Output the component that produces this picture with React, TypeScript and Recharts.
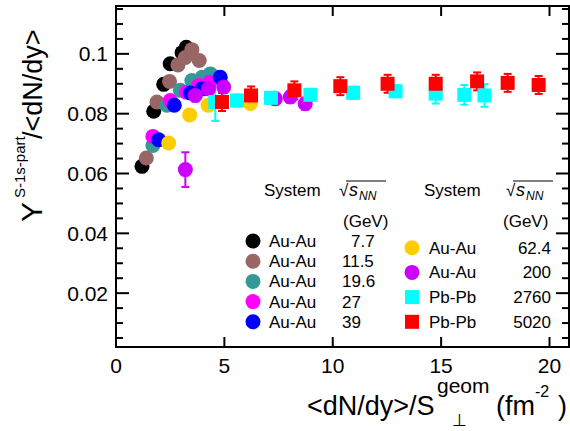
// Rendement S-1s-part / <dN/dy> en fonction de la densité transverse.
import { ScatterChart, Scatter, XAxis, YAxis, ErrorBar, ReferenceArea } from 'recharts';

const FONT = '"Liberation Sans", Arial, Helvetica, sans-serif';

// --- données ----------------------------------------------------------------
const au77X = [1.2, 1.74, 2.2, 2.5, 3.05, 3.24];
const au77Y = [0.0624, 0.0808, 0.0898, 0.0967, 0.1004, 0.1022];

const au115X = [1.4, 1.89, 2.47, 2.86, 3.2, 3.5, 3.84];
const au115Y = [0.0652, 0.0839, 0.0908, 0.0963, 0.0988, 0.1014, 0.0978];

const au196X = [1.7, 2.35, 2.97, 3.5, 3.97, 4.35, 4.66];
const au196Y = [0.0694, 0.0828, 0.0878, 0.0911, 0.0922, 0.0933, 0.0922];

const au27X = [1.7, 2.5, 3.25, 3.81, 4.32];
const au27Y = [0.0724, 0.0844, 0.0872, 0.0894, 0.0905];

const au39X = [1.97, 2.69, 3.43, 3.97, 4.81];
const au39Y = [0.0713, 0.0828, 0.0869, 0.0883, 0.0922];

const au624X = [2.43, 3.4, 4.25, 6.2];
const au624Y = [0.0702, 0.0796, 0.0828, 0.0834];

const au200X = [3.2, 3.66, 4.27, 4.97, 7.35, 8.04, 8.73];
const au200Y = [0.0613, 0.0861, 0.0883, 0.0889, 0.085, 0.0856, 0.0833];
const au200Err = [0.0058, 0.002, 0.002, 0.002, 0.002, 0.002, 0.002];

const pb2760X = [4.58, 5.58, 7.15, 8.97, 10.94, 12.9, 14.75, 16.07, 17.0];
const pb2760Y = [0.0839, 0.0844, 0.0853, 0.0863, 0.087, 0.0875, 0.0867, 0.0863, 0.0861];
const pb2760Err = [0.0063, 0.002, 0.002, 0.002, 0.002, 0.002, 0.0033, 0.0033, 0.0038];

const pb5020X = [4.89, 6.23, 8.23, 10.35, 12.53, 14.75, 16.66, 18.07, 19.5];
const pb5020Y = [0.0839, 0.0861, 0.0878, 0.0892, 0.09, 0.09, 0.0908, 0.0903, 0.0896];
const pb5020Err = [0.003, 0.003, 0.003, 0.003, 0.003, 0.003, 0.003, 0.003, 0.003];

const xTicks = [0, 5, 10, 15, 20];
const yTicks = [
  0.005, 0.01, 0.015, 0.02, 0.025, 0.03, 0.035, 0.04, 0.045, 0.05, 0.055, 0.06,
  0.065, 0.07, 0.075, 0.08, 0.085, 0.09, 0.095, 0.1, 0.105, 0.11, 0.115,
];

// --- géométrie du cadre -----------------------------------------------------
const W = 570;
const H = 431;
const LEFT = 116;
const RIGHT = 569;
const TOP = 6;
const BOTTOM = 347;
const Y_W = 60; // largeur réservée à l'axe y
const X_H = 30; // hauteur réservée à l'axe x

const pts = (xs: number[], ys: number[], errs?: number[]) =>
  xs.map((x, i) => ({ x, y: ys[i], err: errs ? errs[i] : 0 }));

const circle = (color: string) => (p: any) => <circle cx={p.cx} cy={p.cy} r={7.5} fill={color} />;
const square = (color: string) => (p: any) => (
  <rect x={p.cx - 7} y={p.cy - 7} width={14} height={14} fill={color} />
);

function renderYTick(props: any) {
  const { y, payload } = props;
  const v = Math.round(payload.value * 1000);
  const major = v % 20 === 0;
  const len = major ? 13 : 7;
  return (
    <g key={`y${v}`}>
      <line x1={LEFT} x2={LEFT + len} y1={y} y2={y} stroke="#000" strokeWidth={2} />
      <line x1={RIGHT} x2={RIGHT - len} y1={y} y2={y} stroke="#000" strokeWidth={2} />
      {major && (
        <text x={108} y={y + 7.5} textAnchor="end" fontSize={21} fontFamily={FONT} fill="#000">
          {v === 100 ? '0.1' : payload.value.toFixed(2)}
        </text>
      )}
    </g>
  );
}

function renderXTick(props: any) {
  const { x, payload } = props;
  return (
    <g key={`x${payload.value}`}>
      <line x1={x} x2={x} y1={BOTTOM} y2={BOTTOM - 10} stroke="#000" strokeWidth={2} />
      <line x1={x} x2={x} y1={TOP} y2={TOP + 10} stroke="#000" strokeWidth={2} />
      <text x={x} y={373} textAnchor="middle" fontSize={21} fontFamily={FONT} fill="#000">
        {payload.value}
      </text>
    </g>
  );
}

// Légende à deux colonnes, façon ROOT
const leftRows = [
  { c: '#000000', sys: 'Au-Au', e: '7.7', ex: 351 },
  { c: '#996666', sys: 'Au-Au', e: '11.5', ex: 342 },
  { c: '#339999', sys: 'Au-Au', e: '19.6', ex: 342 },
  { c: '#ff00ff', sys: 'Au-Au', e: '27', ex: 342 },
  { c: '#0000ff', sys: 'Au-Au', e: '39', ex: 342 },
];
const rightRows = [
  { c: '#ffcc00', sys: 'Au-Au', e: '62.4', sq: false },
  { c: '#cc00ff', sys: 'Au-Au', e: '200', sq: false },
  { c: '#00ffff', sys: 'Pb-Pb', e: '2760', sq: true },
  { c: '#ff0000', sys: 'Pb-Pb', e: '5020', sq: true },
];

function SqrtS({ x }: { x: number }) {
  return (
    <g fontFamily={FONT} fill="#000">
      <text x={x} y={196} fontSize={17}>√</text>
      <line x1={x + 7} x2={x + 47} y1={181} y2={181} stroke="#000" strokeWidth={1} />
      <text x={x + 10} y={196} fontSize={18} fontStyle="italic">s</text>
      <text x={x + 20} y={200} fontSize={12} fontStyle="italic">NN</text>
    </g>
  );
}

function Overlay() {
  return (
    <svg width={W} height={H} style={{ position: 'absolute', left: 0, top: 0, pointerEvents: 'none' }}>
      {/* titre axe y */}
      <text transform="rotate(-90)" fontFamily={FONT} fill="#000">
        <tspan x={-222} y={42} fontSize={30}>Y</tspan>
        <tspan x={-198} y={25} fontSize={15}>S-1s-part</tspan>
        <tspan x={-139} y={42} fontSize={27}>/&lt;dN/dy&gt;</tspan>
      </text>
      {/* titre axe x */}
      <g fontFamily={FONT} fill="#000">
        <text x={307} y={415} fontSize={27}>&lt;dN/dy&gt;/S</text>
        <text x={437} y={393} fontSize={21}>geom</text>
        <text x={452} y={426} fontSize={17}>⊥</text>
        <text x={496} y={415} fontSize={27}>(fm</text>
        <text x={535} y={397} fontSize={16}>-2</text>
        <text x={558} y={415} fontSize={27}>)</text>
      </g>
      {/* légende */}
      <g fontFamily={FONT} fill="#000" fontSize={17}>
        <text x={264} y={196}>System</text>
        <text x={343} y={227}>(GeV)</text>
        <text x={424} y={196}>System</text>
        <text x={503} y={227}>(GeV)</text>
        {leftRows.map((r, i) => {
          const cy = 241 + i * 20.2;
          return (
            <g key={r.e}>
              <circle cx={253} cy={cy} r={7.5} fill={r.c} />
              <text x={269} y={cy + 6}>{r.sys}</text>
              <text x={r.ex} y={cy + 6}>{r.e}</text>
            </g>
          );
        })}
        {rightRows.map((r, i) => {
          const cy = 247.7 + i * 24.7;
          return (
            <g key={r.e}>
              {r.sq ? (
                <rect x={405} y={cy - 7} width={14} height={14} fill={r.c} />
              ) : (
                <circle cx={412} cy={cy} r={7.5} fill={r.c} />
              )}
              <text x={429} y={cy + 6}>{r.sys}</text>
              <text x={551} y={cy + 6} textAnchor="end">{r.e}</text>
            </g>
          );
        })}
      </g>
      <SqrtS x={339} />
      <SqrtS x={506} />
    </svg>
  );
}

export default function App() {
  const series = [
    { d: pts(au77X, au77Y), c: '#000000', sq: false },
    { d: pts(au115X, au115Y), c: '#996666', sq: false },
    { d: pts(au196X, au196Y), c: '#339999', sq: false },
    { d: pts(au27X, au27Y), c: '#ff00ff', sq: false },
    { d: pts(au39X, au39Y), c: '#0000ff', sq: false },
    { d: pts(au624X, au624Y), c: '#ffcc00', sq: false },
    { d: pts(au200X, au200Y, au200Err), c: '#cc00ff', sq: false, err: true },
    { d: pts(pb2760X, pb2760Y, pb2760Err), c: '#00ffff', sq: true, err: true },
    { d: pts(pb5020X, pb5020Y, pb5020Err), c: '#ff0000', sq: true, err: true },
  ];

  return (
    <div style={{ position: 'absolute', left: 0, top: 0, width: W, height: H, background: '#fff' }}>
      <ScatterChart
        width={W}
        height={H}
        margin={{ top: TOP, right: W - RIGHT, bottom: H - BOTTOM - X_H, left: LEFT - Y_W }}
      >
        <XAxis
          type="number"
          dataKey="x"
          domain={[0, 20.9]}
          ticks={xTicks}
          interval={0}
          height={X_H}
          axisLine={false}
          tickLine={false}
          tick={renderXTick}
          allowDataOverflow
        />
        <YAxis
          type="number"
          dataKey="y"
          domain={[0.002, 0.116]}
          ticks={yTicks}
          interval={0}
          width={Y_W}
          axisLine={false}
          tickLine={false}
          tick={renderYTick}
          allowDataOverflow
        />
        <ReferenceArea
          x1={0}
          x2={20.9}
          y1={0.002}
          y2={0.116}
          fill="none"
          fillOpacity={0}
          stroke="#000"
          strokeWidth={2}
        />
        {series.map((s, i) => (
          <Scatter
            key={i}
            data={s.d}
            fill={s.c}
            isAnimationActive={false}
            shape={s.sq ? square(s.c) : circle(s.c)}
          >
            {s.err && <ErrorBar dataKey="err" direction="y" width={4} stroke={s.c} strokeWidth={2} />}
          </Scatter>
        ))}
      </ScatterChart>
      <Overlay />
    </div>
  );
}
